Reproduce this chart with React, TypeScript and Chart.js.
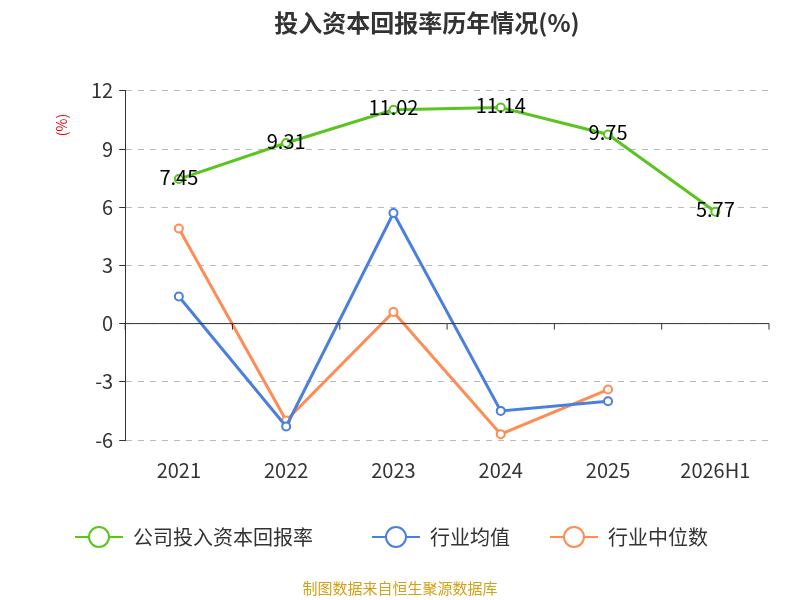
import React, { useEffect, useRef } from "react";
import { Chart, registerables } from "chart.js";
Chart.register(...registerables);

const categories = ["2021", "2022", "2023", "2024", "2025", "2026H1"];
const companyValues = [7.45, 9.31, 11.02, 11.14, 9.75, 5.77];
const industryMean = [1.4, -5.3, 5.7, -4.5, -4.0, null];
const industryMedian = [4.9, -5.0, 0.6, -5.7, -3.4, null];
const seriesNames = ["公司投入资本回报率", "行业均值", "行业中位数"];
const colors = ["#5ac520", "#4a7fe0", "#ff8c55"];
const FONT = "'Noto Sans CJK SC', 'Noto Sans', sans-serif";

const extras = {
  id: "extras",
  afterDatasetsDraw(chart: any) {
    const { ctx, chartArea, scales } = chart;
    const y0 = scales.y.getPixelForValue(0);
    ctx.save();
    ctx.strokeStyle = "#333";
    ctx.lineWidth = 1;
    ctx.beginPath();
    ctx.moveTo(chartArea.left, y0);
    ctx.lineTo(chartArea.right, y0);
    const n = categories.length;
    const w = (chartArea.right - chartArea.left) / n;
    for (let i = 0; i <= n; i++) {
      const x = chartArea.left + w * i;
      ctx.moveTo(x, y0);
      ctx.lineTo(x, y0 + 6);
    }
    ctx.stroke();
    ctx.fillStyle = "#000";
    ctx.font = `20px ${FONT}`;
    ctx.textAlign = "center";
    ctx.textBaseline = "middle";
    const meta = chart.getDatasetMeta(0);
    meta.data.forEach((p: any, i: number) => {
      ctx.fillText(companyValues[i].toFixed(2), p.x, p.y - 2);
    });
    ctx.save();
    ctx.translate(62, 125);
    ctx.rotate(-Math.PI / 2);
    ctx.fillStyle = "#e00";
    ctx.font = `14px ${FONT}`;
    ctx.fillText("(%)", 0, 0);
    ctx.restore();
    const items = [
      { x: 75, label: seriesNames[0], c: colors[0] },
      { x: 372, label: seriesNames[1], c: colors[1] },
      { x: 550, label: seriesNames[2], c: colors[2] },
    ];
    const ly = 537;
    ctx.font = `20px ${FONT}`;
    ctx.textAlign = "left";
    items.forEach((it) => {
      ctx.strokeStyle = it.c;
      ctx.lineWidth = 2;
      ctx.beginPath();
      ctx.moveTo(it.x, ly);
      ctx.lineTo(it.x + 48, ly);
      ctx.stroke();
      ctx.beginPath();
      ctx.fillStyle = "#fff";
      ctx.arc(it.x + 24, ly, 10, 0, Math.PI * 2);
      ctx.fill();
      ctx.stroke();
      ctx.fillStyle = "#333";
      ctx.fillText(it.label, it.x + 58, ly);
    });
    ctx.textAlign = "center";
    ctx.fillStyle = "#d4a017";
    ctx.font = `15px ${FONT}`;
    ctx.fillText("制图数据来自恒生聚源数据库", 400, 588);
    ctx.restore();
  },
};

export default function App() {
  const ref = useRef<HTMLCanvasElement>(null);
  useEffect(() => {
    document.body.style.margin = "0";
    const mk = (label: string, data: any[], c: string) => ({
      label, data, borderColor: c, backgroundColor: "#fff",
      borderWidth: 3, pointRadius: 4, pointBorderWidth: 2,
      pointBackgroundColor: "#fff", pointBorderColor: c, tension: 0,
    });
    const chart = new Chart(ref.current!, {
      type: "line",
      data: {
        labels: categories,
        datasets: [
          mk(seriesNames[0], companyValues, colors[0]),
          mk(seriesNames[1], industryMean, colors[1]),
          mk(seriesNames[2], industryMedian, colors[2]),
        ],
      },
      options: {
        animation: false,
        responsive: false,
        layout: { padding: { left: 85, right: 31, top: 0, bottom: 108 } },
        plugins: {
          legend: { display: false },
          tooltip: { enabled: false },
          title: {
            display: true, text: "投入资本回报率历年情况(%)",
            color: "#333", font: { size: 24, weight: "bold", family: FONT },
            padding: { top: 8, bottom: 54 },
          },
        },
        scales: {
          x: {
            offset: true,
            grid: { display: false },
            border: { display: false },
            ticks: { color: "#333", font: { size: 20, family: FONT }, padding: 10 },
          },
          y: {
            min: -6, max: 12,
            ticks: { stepSize: 3, color: "#333", font: { size: 20, family: FONT }, padding: 6 },
            grid: { color: "#bbb", lineWidth: 1, drawTicks: true, tickLength: 6, tickColor: "#333", tickBorderDash: [] },
            border: { display: true, color: "#333", dash: [6, 6] },
          },
        },
      },
      plugins: [extras],
    });
    return () => chart.destroy();
  }, []);
  return <canvas ref={ref} width={800} height={600} />;
}
